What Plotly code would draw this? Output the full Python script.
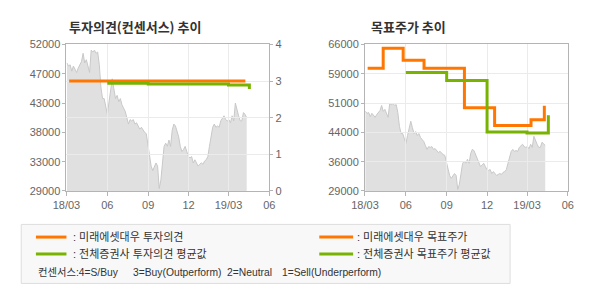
import plotly.graph_objects as go
import pandas as pd

# ---------------- data ----------------
price_vals = [
    49100, 48600, 48800, 47800, 48600, 48100, 47600, 48300, 48800, 49300,
    50600, 49100, 49600, 48600, 47600, 51100, 50800, 51100, 50600, 50800,
    48800, 45300, 43500, 43500, 42000, 41000, 43000, 45000, 46600, 45000,
    43500, 44000, 43000, 43500, 42500, 42000, 41500, 40500, 39500, 40200,
    40000, 40200, 39500, 39700, 39200, 38700, 39000, 38500, 38200, 38000,
    36500, 34400, 32900, 32200, 32700, 33400, 32900, 29400, 30700, 32900,
    36000, 36500, 36000, 37000, 36000, 38500, 39500, 39200, 38200, 37500,
    36000, 35200, 35500, 36000, 35200, 34400, 34200, 34400, 33400, 33900,
    33400, 32900, 33200, 33400, 33200, 33700, 33900, 34400, 36000, 37500,
    39000, 39500, 39000, 39200, 39000, 40000, 40500, 40800, 40200, 40000,
    40200, 39700, 40800, 40000, 42800, 41500, 40800, 40000, 40000, 41300,
    41000, 40500,
]
price_dates = pd.date_range("2018-03-02", "2019-04-11", periods=len(price_vals))

# investment opinion (right axis 0-4)
op_mirae_dates = ["2018-03-07", "2019-04-08"]
op_mirae_vals = [3, 3]
op_avg_dates = ["2018-06-01", "2018-09-01", "2019-03-01", "2019-04-17"]
op_avg_vals = [2.94, 2.92, 2.89, 2.78]

# target price
tp_mirae_dates = ["2018-03-07", "2018-04-11", "2018-05-26", "2018-07-12",
                  "2018-10-11", "2018-12-18", "2019-03-10", "2019-04-09"]
tp_mirae_vals = [60000, 65000, 62000, 60000, 50000, 45500, 47000, 50500]
tp_avg_dates = ["2018-06-01", "2018-09-01", "2018-12-01", "2019-03-01", "2019-04-18"]
tp_avg_vals = [58900, 56900, 43900, 43650, 48100]

x_tick_dates = ["2018-03-01", "2018-06-01", "2018-09-01", "2018-12-01", "2019-03-01", "2019-06-01"]
x_tick_text = ["18/03", "06", "09", "12", "19/03", "06"]
left_tick_text = ["29000", "33000", "38000", "43000", "47000", "52000"]
right_tick_text = ["29000", "36000", "44000", "51000", "59000", "66000"]
op_ticks = [0, 1, 2, 3, 4]

left_range = [29000, 52000]
right_range = [29000, 66000]
x_range = ["2018-03-01", "2019-06-01"]

ORANGE = "#ff7700"
GREEN = "#77b300"
FILL = "#e0e0e0"
FILL_LINE = "#c8c8c8"
GRID = "#ebebeb"
AXIS = "#b4b4b4"
TICKFONT = dict(family="Liberation Sans, Arial, sans-serif", size=11, color="#666666")
KFONT = "Noto Sans CJK KR, sans-serif"
MIXFONT = "Liberation Sans, Noto Sans CJK KR, sans-serif"

W, H = 590, 300
def px(x):
    return x / W
def py(y):
    return 1 - y / H

def evenly(r, n=6):
    return [r[0] + (r[1] - r[0]) * i / (n - 1) for i in range(n)]

fig = go.Figure()

# --- left chart: price fill (bottom subplot x/y)
fig.add_trace(go.Scatter(x=price_dates, y=price_vals, xaxis="x", yaxis="y",
                         mode="lines", line=dict(color=FILL_LINE, width=1),
                         fill="tozeroy", fillcolor=FILL, hoverinfo="skip", showlegend=False))
# --- left chart opinion lines (x2 / y3)
fig.add_trace(go.Scatter(x=op_mirae_dates, y=op_mirae_vals, xaxis="x2", yaxis="y3",
                         mode="lines", line=dict(color=ORANGE, width=3, shape="hv"), showlegend=False))
fig.add_trace(go.Scatter(x=op_avg_dates, y=op_avg_vals, xaxis="x2", yaxis="y3",
                         mode="lines", line=dict(color=GREEN, width=3, shape="hv"), showlegend=False))
fig.add_trace(go.Scatter(x=[x_range[0]], y=[left_range[0]], xaxis="x2", yaxis="y2",
                         mode="markers", marker=dict(opacity=0), hoverinfo="skip", showlegend=False))

# --- right chart: price fill (x3/y4)
fig.add_trace(go.Scatter(x=price_dates, y=price_vals, xaxis="x3", yaxis="y4",
                         mode="lines", line=dict(color=FILL_LINE, width=1),
                         fill="tozeroy", fillcolor=FILL, hoverinfo="skip", showlegend=False))
# --- right chart target lines (x4/y5)
fig.add_trace(go.Scatter(x=tp_mirae_dates, y=tp_mirae_vals, xaxis="x4", yaxis="y5",
                         mode="lines", line=dict(color=ORANGE, width=3, shape="hv"), showlegend=False))
fig.add_trace(go.Scatter(x=tp_avg_dates, y=tp_avg_vals, xaxis="x4", yaxis="y5",
                         mode="lines", line=dict(color=GREEN, width=3, shape="hv"), showlegend=False))

LDOM = [px(54.3), px(264.3)]
RDOM = [px(363.3), px(573.3)]
YDOM = [py(192.7), py(40)]

hidden_x = dict(type="date", range=x_range, visible=False, showgrid=False, zeroline=False)
main_x = dict(type="date", range=x_range, tickvals=x_tick_dates, ticktext=x_tick_text,
              showgrid=True, gridcolor=GRID, gridwidth=1, zeroline=False,
              showline=True, linecolor=AXIS, linewidth=1, mirror=True,
              ticks="outside", ticklen=4, tickcolor=AXIS, tickfont=TICKFONT, fixedrange=True)

fig.update_layout(
    width=W, height=H, margin=dict(l=0, r=0, t=0, b=0),
    paper_bgcolor="white", plot_bgcolor="rgba(0,0,0,0)", showlegend=False,
    xaxis=dict(domain=LDOM, **hidden_x),
    yaxis=dict(domain=YDOM, range=left_range, visible=False, showgrid=False, zeroline=False),
    xaxis2=dict(domain=LDOM, anchor="y2", **main_x),
    yaxis2=dict(domain=YDOM, anchor="x2", range=left_range, tickvals=evenly(left_range),
                ticktext=left_tick_text, showgrid=False, zeroline=False,
                showline=True, linecolor=AXIS, linewidth=1,
                ticks="outside", ticklen=3, tickcolor=AXIS, tickfont=TICKFONT),
    yaxis3=dict(overlaying="y2", anchor="x2", side="right", range=[0, 4], tickvals=op_ticks,
                showgrid=True, gridcolor=GRID, gridwidth=1, zeroline=False,
                showline=True, linecolor=AXIS, linewidth=1,
                ticks="outside", ticklen=3, tickcolor=AXIS, tickfont=TICKFONT),
    xaxis3=dict(domain=RDOM, anchor="y4", **hidden_x),
    yaxis4=dict(domain=YDOM, anchor="x3", range=right_range, visible=False, showgrid=False, zeroline=False),
    xaxis4=dict(domain=RDOM, anchor="y5", **main_x),
    yaxis5=dict(domain=YDOM, anchor="x4", range=right_range, tickvals=evenly(right_range),
                ticktext=right_tick_text, showgrid=True, gridcolor=GRID, gridwidth=1, zeroline=False,
                showline=True, linecolor=AXIS, linewidth=1, mirror=True,
                ticks="outside", ticklen=3, tickcolor=AXIS, tickfont=TICKFONT),
)

ann = []
shapes = []
# titles
ann.append(dict(text="<b>투자의견(컨센서스) 추이</b>", x=px(55), y=py(21), xref="paper", yref="paper",
                xanchor="left", yanchor="middle", align="left", showarrow=False,
                font=dict(family=KFONT, size=13, color="#333333")))
ann.append(dict(text="<b>목표주가 추이</b>", x=px(367.5), y=py(21), xref="paper", yref="paper",
                xanchor="left", yanchor="middle", align="left", showarrow=False,
                font=dict(family=KFONT, size=13, color="#333333")))

# legend box
shapes.append(dict(type="rect", xref="paper", yref="paper", x0=px(7.5), x1=px(513.5),
                   y0=py(289), y1=py(227.5), line=dict(color="#dddddd", width=1),
                   fillcolor="#f8f8f8", layer="below"))
legend_items = [
    (22.7, 54.3, 240.7, ORANGE, 59, ":\u00a0미래에셋대우 투자의견"),
    (22.7, 54.3, 258.3, GREEN, 59, ":\u00a0전체증권사 투자의견 평균값"),
    (316, 351, 240.7, ORANGE, 352.5, ":\u00a0미래에셋대우 목표주가"),
    (316, 351, 258.3, GREEN, 352.5, ":\u00a0전체증권사 목표주가 평균값"),
]
for x0, x1, y, col, tx, label in legend_items:
    shapes.append(dict(type="line", xref="paper", yref="paper", x0=px(x0), x1=px(x1),
                       y0=py(y), y1=py(y), line=dict(color=col, width=3)))
    ann.append(dict(text=label, x=px(tx), y=py(y), xref="paper", yref="paper",
                    xanchor="left", yanchor="middle", align="left", showarrow=False,
                    font=dict(family=MIXFONT, size=11, color="#333333")))

consensus_parts = [(22.7, "컨센서스:4=S/Buy"), (120.7, "3=Buy(Outperform)"),
                   (218.3, "2=Neutral"), (275, "1=Sell(Underperform)")]
for tx, label in consensus_parts:
    ann.append(dict(text=label, x=px(tx), y=py(277.5), xref="paper", yref="paper",
                    xanchor="left", yanchor="middle", align="left", showarrow=False,
                    font=dict(family=MIXFONT, size=10.3, color="#333333")))

fig.update_layout(annotations=ann, shapes=shapes)
fig.write_html("out.html")
